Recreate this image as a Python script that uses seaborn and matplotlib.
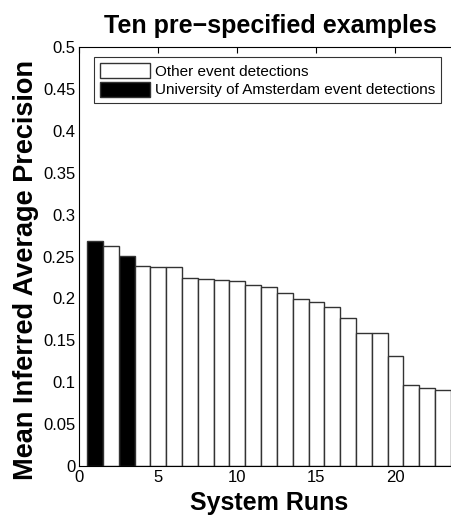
import matplotlib
matplotlib.use("Agg")
import matplotlib.pyplot as plt
from matplotlib.patches import Patch
import pandas as pd
import seaborn as sns

# system runs and their mean inferred average precision
runs = list(range(1, 24))
map_values = [0.269, 0.262, 0.251, 0.239, 0.238, 0.238, 0.224, 0.223, 0.222,
              0.221, 0.216, 0.214, 0.207, 0.199, 0.196, 0.190, 0.177, 0.159,
              0.159, 0.131, 0.097, 0.093, 0.091]
uva_runs = [1, 3]
groups = ["University of Amsterdam event detections" if r in uva_runs
          else "Other event detections" for r in runs]
y_ticks = [0, 0.05, 0.1, 0.15, 0.2, 0.25, 0.3, 0.35, 0.4, 0.45, 0.5]
y_tick_labels = ["0", "0.05", "0.1", "0.15", "0.2", "0.25", "0.3", "0.35",
                 "0.4", "0.45", "0.5"]
x_ticks = [0, 5, 10, 15, 20]

df = pd.DataFrame({"run": runs, "map": map_values, "group": groups})

sns.set_theme(style="white")
plt.rcParams["font.family"] = ["Liberation Sans", "DejaVu Sans"]
plt.rcParams["text.color"] = "black"
plt.rcParams["axes.labelcolor"] = "black"

fig = plt.figure(figsize=(4.52, 5.15), dpi=100)
ax = fig.add_axes([0.1755, 0.0951, 0.8393, 0.8136])

palette = {"Other event detections": "white",
           "University of Amsterdam event detections": "black"}
sns.barplot(data=df, x="run", y="map", hue="group", palette=palette,
            native_scale=True, width=1, dodge=False, edgecolor="#333333",
            linewidth=1.0, saturation=1, legend=False, ax=ax)

ax.set_xlim(0, 24)
ax.set_ylim(0, 0.5)
ax.set_xticks(x_ticks)
ax.set_xticklabels([str(t) for t in x_ticks])
ax.set_yticks(y_ticks)
ax.set_yticklabels(y_tick_labels)
ax.tick_params(direction="in", length=4, width=0.8, labelsize=12,
               top=True, right=True, colors="black", pad=3)
for s in ax.spines.values():
    s.set_color("black")
    s.set_linewidth(0.8)

ax.set_title("Ten pre\u2212specified examples", fontsize=18, fontweight="bold",
             pad=10, x=0.503, color="black")
ax.set_xlabel("System Runs", fontsize=18, fontweight="bold", labelpad=4)
ax.set_ylabel("Mean Inferred Average Precision", fontsize=19.5,
              fontweight="bold")
ax.yaxis.set_label_coords(-0.105, 0.468)

handles = [Patch(facecolor="white", edgecolor="#333333", linewidth=1.0),
           Patch(facecolor="black", edgecolor="#333333", linewidth=1.0)]
leg = ax.legend(handles, ["Other event detections",
                          "University of Amsterdam event detections"],
                loc="upper left", bbox_to_anchor=(0.038, 0.976),
                fontsize=11.0, frameon=True, fancybox=False,
                handlelength=3.3, handleheight=1.15, handletextpad=0.3,
                labelspacing=0.2, borderpad=0.38, borderaxespad=0)
leg.get_frame().set_edgecolor("black")
leg.get_frame().set_linewidth(0.8)

fig.savefig("out.png", dpi=100)
